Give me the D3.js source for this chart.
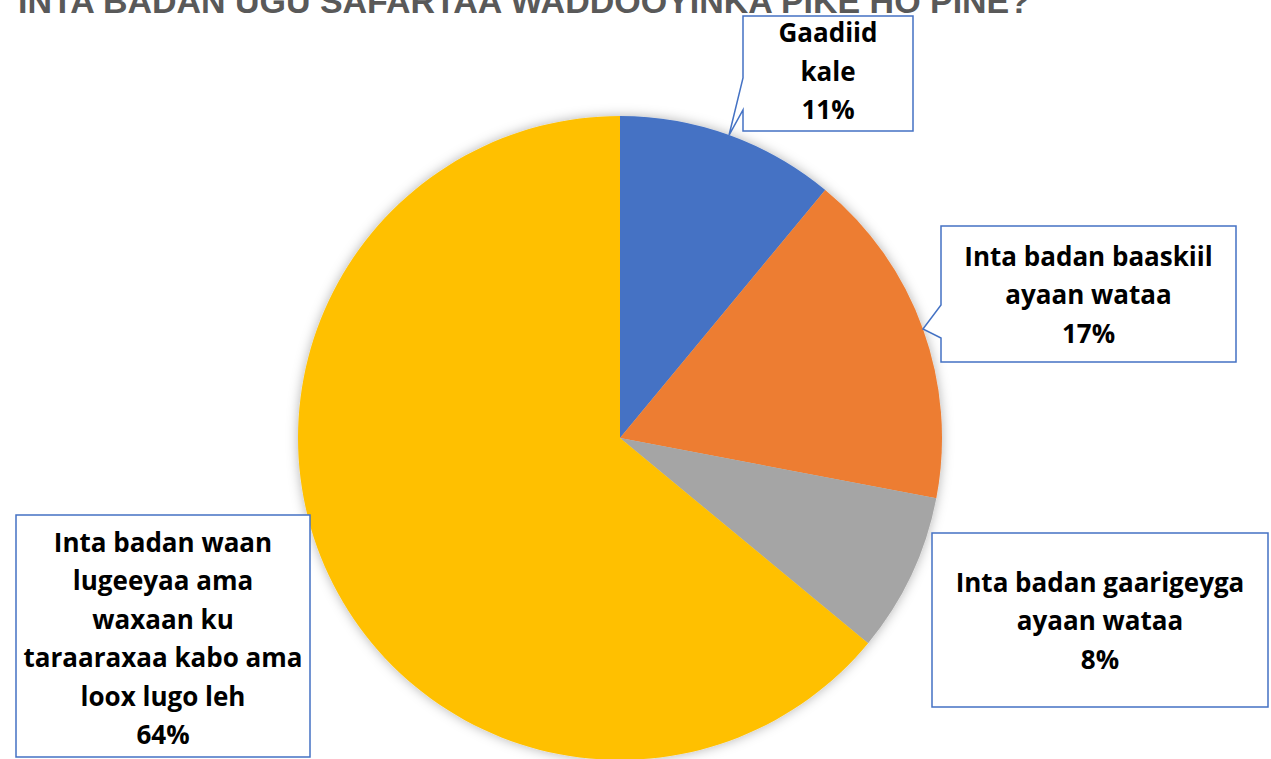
<!DOCTYPE html>
<html>
<head>
<meta charset="utf-8">
<script src="https://cdn.jsdelivr.net/npm/d3@7"></script>
<style>
  html, body { margin: 0; padding: 0; background: #fff; }
  #chart { width: 1271px; height: 759px; overflow: hidden; }
</style>
</head>
<body>
<div id="chart"></div>
<script>
const title = "INTA BADAN UGU SAFARTAA WADDOOYINKA PIKE HO PINE?";
const categories = [
  "Gaadiid kale",
  "Inta badan baaskiil ayaan wataa",
  "Inta badan gaarigeyga ayaan wataa",
  "Inta badan waan lugeeyaa ama waxaan ku taraaraxaa kabo ama loox lugo leh"
];
const values = [11, 17, 8, 64];
const colors = ["#4472C4", "#ED7D31", "#A5A5A5", "#FFC000"];
// how each label is broken into lines
const labelLines = [
  ["Gaadiid", "kale"],
  ["Inta badan baaskiil", "ayaan wataa"],
  ["Inta badan gaarigeyga", "ayaan wataa"],
  ["Inta badan waan", "lugeeyaa ama", "waxaan ku", "taraaraxaa kabo ama", "loox lugo leh"]
];

const W = 1271, H = 759;
const cx = 620, cy = 438, R = 322;

const svg = d3.select("#chart").append("svg")
  .attr("width", W).attr("height", H);

// soft shadow like the office chart
const defs = svg.append("defs");
const f = defs.append("filter").attr("id", "shadow")
  .attr("x", "-20%").attr("y", "-20%").attr("width", "140%").attr("height", "140%");
f.append("feDropShadow").attr("dx", 0).attr("dy", 0)
  .attr("stdDeviation", 6).attr("flood-color", "#000").attr("flood-opacity", 0.3);

// title (partially cut by the top edge, as in the source)
svg.append("text")
  .attr("x", 18).attr("y", 13)
  .attr("font-family", "Liberation Sans, Arial, sans-serif")
  .attr("font-weight", "bold")
  .attr("font-size", 34)
  .attr("fill", "#595959")
  .attr("textLength", 1012)
  .attr("lengthAdjust", "spacingAndGlyphs")
  .text(title);

const pie = d3.pie().sort(null).value(d => d);
const arcs = pie(values);
const arc = d3.arc().innerRadius(0).outerRadius(R);

const g = svg.append("g").attr("transform", `translate(${cx},${cy})`);
g.append("g").attr("filter", "url(#shadow)")
  .selectAll("path")
  .data(arcs)
  .join("path")
  .attr("d", arc)
  .attr("fill", (d, i) => colors[i]);

// callout boxes: [x0, y0, x1, y1], pointer base on left edge [yA, yB] or null
const boxes = [
  { box: [743, 16, 913, 131], ptr: [78, 110], dy: -2 },
  { box: [941, 226, 1236, 362], ptr: [305, 338], dy: 1 },
  { box: [932, 533, 1268, 707], ptr: null, dy: 1 },
  { box: [16, 515, 310, 757], ptr: null, dy: 3 }
];

const lineH = 38.5;
const callouts = svg.append("g");
boxes.forEach((b, i) => {
  const [x0, y0, x1, y1] = b.box;
  const a = arcs[i];
  const mid = (a.startAngle + a.endAngle) / 2;
  const tip = [cx + R * Math.sin(mid), cy - R * Math.cos(mid)];
  let p;
  if (b.ptr) {
    p = `M${x0},${y0} L${x1},${y0} L${x1},${y1} L${x0},${y1} L${x0},${b.ptr[1]} L${tip[0]},${tip[1]} L${x0},${b.ptr[0]} Z`;
  } else {
    p = `M${x0},${y0} L${x1},${y0} L${x1},${y1} L${x0},${y1} Z`;
  }
  callouts.append("path")
    .attr("d", p)
    .attr("fill", "#fff")
    .attr("stroke", "#4472C4")
    .attr("stroke-width", 1.5);

  const lines = labelLines[i].concat([d3.format(".0%")(values[i] / d3.sum(values))]);
  const midX = (x0 + x1) / 2;
  const midY = (y0 + y1) / 2 + b.dy;
  const startY = midY - (lines.length - 1) * lineH / 2;
  callouts.append("text")
    .attr("font-family", "'Open Sans', Lato, sans-serif")
    .attr("font-weight", "bold")
    .attr("font-size", 26)
    .attr("fill", "#000")
    .attr("text-anchor", "middle")
    .selectAll("tspan")
    .data(lines)
    .join("tspan")
    .attr("x", midX)
    .attr("y", (d, k) => startY + k * lineH)
    .attr("dy", "0.35em")
    .text(d => d);
});
</script>
</body>
</html>
